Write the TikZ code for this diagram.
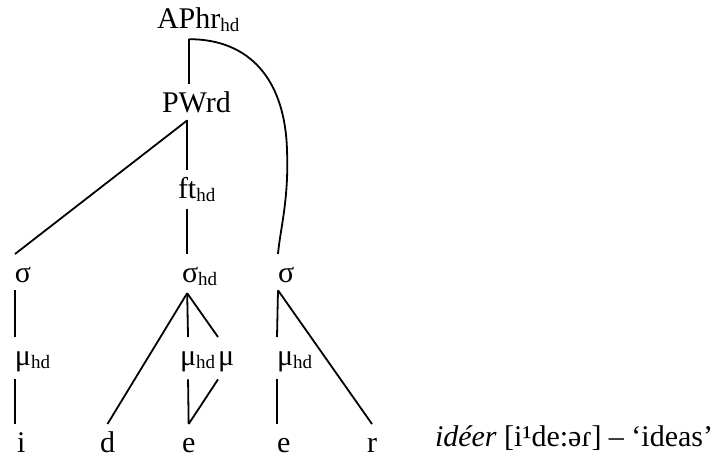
\documentclass[tikz,border=0pt]{standalone}
\usepackage{fontspec}
\setmainfont{Liberation Serif}
\newcommand{\hdsub}{\rlap{\raisebox{-3pt}{\fontsize{19}{19}\selectfont hd}}}

\begin{document}
\begin{tikzpicture}[
    x=1pt, y=-1pt,
    lbl/.style={inner sep=0pt, outer xsep=0pt, outer ysep=8pt, text height=20pt, anchor=base west, font=\fontsize{30}{36}\selectfont},
    edge/.style={line width=1.8pt}
]
    \useasboundingbox (0,0) rectangle (718,458);

    \node[lbl] (aphr) at (157,28) {APhr\hdsub};
    \node[lbl] (pwrd) at (162,112) {PWrd};
    \node[lbl] (ft) at (178,198) {ft\hdsub};
    \node[lbl] (sig1) at (15,282) {σ};
    \node[lbl] (sig2) at (182,282) {σ\hdsub};
    \node[lbl] (sig3) at (278,282) {σ};
    \node[lbl] (mu1) at (15,365) {μ\hdsub};
    \node[lbl] (mu2) at (180,365) {μ\hdsub};
    \node[lbl] (mu3) at (218,365) {μ};
    \node[lbl] (mu4) at (277,365) {μ\hdsub};
    \node[lbl] (seg1) at (17,452) {i};
    \node[lbl] (seg2) at (100,452) {d};
    \node[lbl] (seg3) at (182,452) {e};
    \node[lbl] (seg4) at (277,452) {e};
    \node[lbl] (seg5) at (367,452) {r};
    \node[lbl] (gloss) at (435,446) {\textit{idéer} [i¹de:əɾ] – ‘ideas’};

    \draw[edge] (aphr.south) -- (aphr.south |- pwrd.north);
    \draw[edge] (aphr.south) .. controls (250,39) and (285,80) .. (287,150)
        .. controls (289,200) and (280,230) .. (sig3.north west);
    \draw[edge] (ft.north |- pwrd.south) -- (ft.north);
    \draw[edge] (ft.north |- pwrd.south) -- (sig1.north west);
    \draw[edge] (ft.south) -- (ft.south |- sig2.north);
    \draw[edge] (sig1.south west) -- (mu1.north west);
    \draw[edge] (mu1.south west) -- (mu1.south west |- seg1.north);
    \draw[edge] (ft.south |- sig2.south) -- (seg2.north);
    \draw[edge] (ft.south |- sig2.south) -- (mu2.north);
    \draw[edge] (ft.south |- sig2.south) -- (mu3.north west);
    \draw[edge] (mu2.south) -- (seg3.north);
    \draw[edge] (mu3.south west) -- (seg3.north);
    \draw[edge] (sig3.south west) -- (mu4.north west);
    \draw[edge] (sig3.south west) -- (seg5.north);
    \draw[edge] (mu4.south west) -- (seg4.north west);
\end{tikzpicture}
\end{document}
